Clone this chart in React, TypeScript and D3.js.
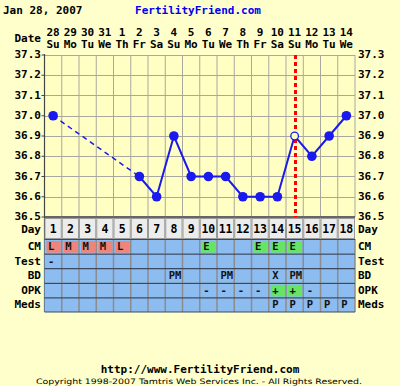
import React from "react";
import * as d3 from "d3";

const DAYS = d3.range(1, 19);
const DATES = ["28", "29", "30", "31", "1", "2", "3", "4", "5", "6", "7", "8", "9", "10", "11", "12", "13", "14"];
const WEEKDAYS = ["Su", "Mo", "Tu", "We", "Th", "Fr", "Sa", "Su", "Mo", "Tu", "We", "Th", "Fr", "Sa", "Su", "Mo", "Tu", "We"];
const TEMPS: (number | null)[] = [37.0, null, null, null, null, 36.7, 36.6, 36.9, 36.7, 36.7, 36.7, 36.6, 36.6, 36.6, 36.9, 36.8, 36.9, 37.0];
const TEMP_TICKS = [36.5, 36.6, 36.7, 36.8, 36.9, 37.0, 37.1, 37.2, 37.3];
const OVULATION_DAY = 15;
const OPEN_POINT_DAY = 15;

const CM = ["L", "M", "M", "M", "L", "", "", "", "", "E", "", "", "E", "E", "E", "", "", ""];
const TEST = ["-", "", "", "", "", "", "", "", "", "", "", "", "", "", "", "", "", ""];
const BD = ["", "", "", "", "", "", "", "PM", "", "", "PM", "", "", "X", "PM", "", "", ""];
const OPK = ["", "", "", "", "", "", "", "", "", "-", "-", "-", "-", "+", "+", "-", "", ""];
const MEDS = ["", "", "", "", "", "", "", "", "", "", "", "", "", "P", "P", "P", "P", "P"];

const ROWS = [
  { label: "CM", values: CM },
  { label: "Test", values: TEST },
  { label: "BD", values: BD },
  { label: "OPK", values: OPK },
  { label: "Meds", values: MEDS },
];

const W = 400;
const H = 386;
const PLOT = { left: 44.5, right: 355, top: 55, bottom: 217 };
const DAY_ROW = { top: 218, bottom: 238 };
const ROW_H = 14.6;
const FONT = "'DejaVu Sans Mono', monospace";

const cellColor = (label: string, v: string) => {
  if (label === "CM" && (v === "L" || v === "M")) return "#f08478";
  if (label === "CM" && v === "E") return "#66e466";
  if (label === "OPK" && v === "+") return "#66e466";
  return null;
};

const App = () => {
  const ref = React.useRef<SVGSVGElement>(null);

  React.useEffect(() => {
    const svg = d3.select(ref.current!);
    svg.selectAll("*").remove();

    const x = d3.scaleBand<number>().domain(DAYS).range([PLOT.left, PLOT.right]).padding(0);
    const cx = (d: number) => x(d)! + x.bandwidth() / 2;
    const y = d3.scaleLinear().domain([36.5, 37.3]).range([PLOT.bottom, PLOT.top]);

    svg.append("rect").attr("width", W).attr("height", H).attr("fill", "#ffffcc");

    // header
    svg.append("text").attr("x", 3).attr("y", 14).text("Jan 28, 2007")
      .attr("font-family", FONT).attr("font-weight", "bold").attr("font-size", 11).attr("fill", "#000");
    svg.append("text").attr("x", 198).attr("y", 14).attr("text-anchor", "middle").text("FertilityFriend.com")
      .attr("font-family", FONT).attr("font-weight", "bold").attr("font-size", 11).attr("fill", "#0000ee");

    svg.append("text").attr("x", 41).attr("y", 42).attr("text-anchor", "end").text("Date")
      .attr("font-family", FONT).attr("font-weight", "bold").attr("font-size", 11);

    const head = svg.append("g").attr("font-family", FONT).attr("font-weight", "bold").attr("font-size", 11)
      .attr("text-anchor", "middle");
    head.selectAll("text.date").data(DAYS).enter().append("text")
      .attr("x", cx).attr("y", 36).text((d) => DATES[d - 1]);
    head.selectAll("text.wd").data(DAYS).enter().append("text")
      .attr("x", cx).attr("y", 48).text((d) => WEEKDAYS[d - 1]);

    // plot area
    svg.append("rect").attr("x", PLOT.left).attr("y", PLOT.top)
      .attr("width", PLOT.right - PLOT.left).attr("height", PLOT.bottom - PLOT.top).attr("fill", "#ffffc4");

    const grid = svg.append("g").attr("stroke", "#a8a8a0").attr("stroke-width", 1);
    grid.selectAll("line.v").data(DAYS.slice(1).concat([19])).enter().append("line")
      .attr("x1", (d) => (d === 19 ? PLOT.right : x(d)!)).attr("x2", (d) => (d === 19 ? PLOT.right : x(d)!))
      .attr("y1", PLOT.top).attr("y2", PLOT.bottom);
    grid.selectAll("line.h").data(TEMP_TICKS.slice(1)).enter().append("line")
      .attr("x1", PLOT.left).attr("x2", PLOT.right)
      .attr("y1", (d) => Math.round(y(d)) + 0.5).attr("y2", (d) => Math.round(y(d)) + 0.5);

    svg.append("line").attr("x1", PLOT.left).attr("x2", PLOT.left).attr("y1", PLOT.top - 1).attr("y2", 312)
      .attr("stroke", "#444").attr("stroke-width", 1.2);
    svg.append("line").attr("x1", PLOT.left).attr("x2", PLOT.right).attr("y1", PLOT.bottom).attr("y2", PLOT.bottom)
      .attr("stroke", "#666").attr("stroke-width", 2);

    // y tick labels
    const yl = svg.append("g").attr("font-family", FONT).attr("font-weight", "bold").attr("font-size", 11);
    yl.selectAll("text.l").data(TEMP_TICKS).enter().append("text")
      .attr("x", 41).attr("y", (d) => y(d) + 3).attr("text-anchor", "end").text((d) => d.toFixed(1));
    yl.selectAll("text.r").data(TEMP_TICKS).enter().append("text")
      .attr("x", 358).attr("y", (d) => y(d) + 3).text((d) => d.toFixed(1));
    svg.selectAll("line.tick").data(TEMP_TICKS).enter().append("line")
      .attr("x1", PLOT.left - 3).attr("x2", PLOT.left).attr("y1", (d) => y(d)).attr("y2", (d) => y(d))
      .attr("stroke", "#444");

    // ovulation line
    svg.append("line").attr("x1", Math.round(cx(OVULATION_DAY)) + 0.5).attr("x2", Math.round(cx(OVULATION_DAY)) + 0.5)
      .attr("y1", PLOT.top).attr("y2", PLOT.bottom)
      .attr("stroke", "#ff0000").attr("stroke-width", 3).attr("stroke-dasharray", "4,3");

    // temperature lines
    const pts = DAYS.map((d) => ({ d, t: TEMPS[d - 1] })).filter((p) => p.t !== null) as { d: number; t: number }[];
    const line = d3.line<{ d: number; t: number }>().x((p) => cx(p.d)).y((p) => y(p.t));
    svg.append("path").attr("d", line(pts.slice(0, 2))!).attr("fill", "none")
      .attr("stroke", "#1a1aee").attr("stroke-width", 1.5).attr("stroke-dasharray", "5,4");
    svg.append("path").attr("d", line(pts.slice(1))!).attr("fill", "none")
      .attr("stroke", "#1a1aee").attr("stroke-width", 2);

    svg.selectAll("circle.pt").data(pts).enter().append("circle")
      .attr("cx", (p) => cx(p.d)).attr("cy", (p) => y(p.t))
      .attr("r", (p) => (p.d === OPEN_POINT_DAY ? 3.8 : 4.8))
      .attr("fill", (p) => (p.d === OPEN_POINT_DAY ? "#ffffc4" : "#1a1aee"))
      .attr("stroke", "#1a1aee").attr("stroke-width", (p) => (p.d === OPEN_POINT_DAY ? 1.3 : 0));

    // day row
    const dayRow = svg.append("g");
    dayRow.selectAll("rect").data(DAYS).enter().append("rect")
      .attr("x", (d) => x(d)! + 0.5).attr("y", DAY_ROW.top + 0.5)
      .attr("width", x.bandwidth() - 1).attr("height", DAY_ROW.bottom - DAY_ROW.top)
      .attr("fill", "#ececec").attr("stroke", "#9a9a9a").attr("stroke-width", 1);
    dayRow.selectAll("text").data(DAYS).enter().append("text")
      .attr("x", cx).attr("y", DAY_ROW.top + 15).attr("text-anchor", "middle").text((d) => d)
      .attr("font-family", FONT).attr("font-weight", "bold").attr("font-size", 11.5);

    const labelStyle = (s: d3.Selection<SVGTextElement, unknown, null, undefined>) =>
      s.attr("font-family", FONT).attr("font-weight", "bold").attr("font-size", 11).attr("fill", "#000");
    labelStyle(svg.append("text").attr("x", 41).attr("y", DAY_ROW.top + 15).attr("text-anchor", "end").text("Day"));
    labelStyle(svg.append("text").attr("x", 358).attr("y", DAY_ROW.top + 15).text("Day"));

    // observation rows
    ROWS.forEach((row, i) => {
      const top = DAY_ROW.bottom + 1 + i * ROW_H;
      const g = svg.append("g");
      g.append("rect").attr("x", PLOT.left).attr("y", top).attr("width", PLOT.right - PLOT.left)
        .attr("height", ROW_H).attr("fill", "#8cbcf0");
      g.selectAll("rect.c").data(DAYS).enter().append("rect")
        .attr("x", (d) => x(d)! + 2).attr("y", top + 2)
        .attr("width", x.bandwidth() - 3).attr("height", ROW_H - 3)
        .attr("fill", (d) => cellColor(row.label, row.values[d - 1]) || "none");
      g.selectAll("line.v").data(DAYS.slice(1).concat([19])).enter().append("line")
        .attr("x1", (d) => (d === 19 ? PLOT.right : x(d)!)).attr("x2", (d) => (d === 19 ? PLOT.right : x(d)!))
        .attr("y1", top).attr("y2", top + ROW_H).attr("stroke", "#8c8c8c").attr("stroke-width", 1.5);
      g.append("line").attr("x1", PLOT.left).attr("x2", PLOT.right).attr("y1", top + 0.5).attr("y2", top + 0.5)
        .attr("stroke", "#3a4a60").attr("stroke-width", 1.2);
      g.selectAll("text").data(DAYS).enter().append("text")
        .attr("x", (d) => x(d)! + 3.5).attr("y", top + 11).text((d) => row.values[d - 1])
        .attr("font-family", FONT).attr("font-weight", "bold").attr("font-size", 10.5).attr("fill", "#111");
      labelStyle(svg.append("text").attr("x", 41).attr("y", top + 11).attr("text-anchor", "end").text(row.label));
      labelStyle(svg.append("text").attr("x", 358).attr("y", top + 11).text(row.label));
    });
    const tableBottom = DAY_ROW.bottom + 1 + ROWS.length * ROW_H;
    svg.append("line").attr("x1", PLOT.left).attr("x2", PLOT.right).attr("y1", tableBottom).attr("y2", tableBottom)
      .attr("stroke", "#3a4a60").attr("stroke-width", 1.2);

    // footer
    svg.append("text").attr("x", 200).attr("y", 373).attr("text-anchor", "middle")
      .text("http://www.FertilityFriend.com")
      .attr("font-family", FONT).attr("font-weight", "bold").attr("font-size", 11);
    svg.append("text").attr("x", 199).attr("y", 384).attr("text-anchor", "middle")
      .text("Copyright 1998-2007 Tamtris Web Services Inc. - All Rights Reserved.")
      .attr("font-family", "'DejaVu Sans', sans-serif").attr("font-size", 7.5)
      .attr("textLength", 326).attr("lengthAdjust", "spacingAndGlyphs");
  }, []);

  return (
    <svg ref={ref} width={W} height={H}
      style={{ position: "absolute", left: 0, top: 0, display: "block" }} />
  );
};

export default App;
